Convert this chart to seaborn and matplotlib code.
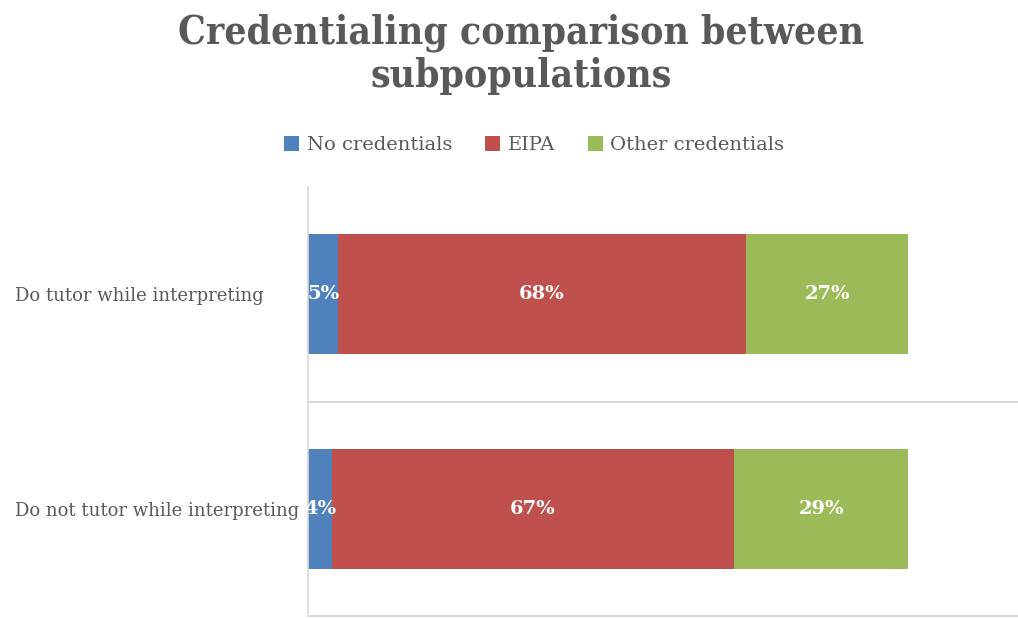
import matplotlib
matplotlib.use("Agg")
import matplotlib.pyplot as plt
from matplotlib.patches import Patch
import seaborn as sns
import pandas as pd
import numpy as np

# Survey groups and credential shares (percent)
groups = ["Do tutor while interpreting", "Do not tutor while interpreting"]
series_names = ["No credentials", "EIPA", "Other credentials"]
no_credentials = [5, 4]
eipa = [68, 67]
other_credentials = [27, 29]

colors = ["#4F81BD", "#C0504D", "#9BBB59"]
text_gray = "#595959"
grid_gray = "#D9D9D9"

sns.set_theme(style="white")
plt.rcParams["font.family"] = ["DejaVu Serif"]

fig = plt.figure(figsize=(10.18, 6.18), dpi=100)
ax = fig.add_axes([308 / 1018, 2 / 618, 1 - 308 / 1018, (616 - 187) / 618])

values = [no_credentials, eipa, other_credentials]
cum = np.cumsum(np.array(values, dtype=float), axis=0)

# Draw cumulative totals from the outermost segment inward so they stack
for i in range(len(series_names) - 1, -1, -1):
    df = pd.DataFrame({"group": groups, "value": cum[i]})
    sns.barplot(data=df, y="group", x="value", orient="h", color=colors[i],
                saturation=1, width=0.56, ax=ax, linewidth=0)

# Segment labels
for i, vals in enumerate(values):
    starts = cum[i] - np.array(vals)
    for j, v in enumerate(vals):
        ax.text(starts[j] + v / 2, j, f"{v}%", ha="center", va="center",
                color="white", fontsize=14, fontweight="bold")

ax.set_xlim(0, 118.3)
ax.set_ylim(1.5, -0.5)
ax.set_xlabel("")
ax.set_ylabel("")
ax.set_xticks([])
for s in ["top", "right", "bottom"]:
    ax.spines[s].set_visible(False)
ax.spines["left"].set_color(grid_gray)
ax.spines["left"].set_linewidth(1.2)
for yb in [0.5, 1.5]:
    ax.axhline(yb, color=grid_gray, linewidth=1.5, clip_on=False)

ax.tick_params(axis="y", length=0, pad=0)
ax.set_yticks(range(len(groups)))
ax.set_yticklabels(groups, fontsize=13, color=text_gray)
for lbl in ax.get_yticklabels():
    lbl.set_horizontalalignment("left")
    lbl.set_x(-293 / 710)

fig.text(0.512, 0.978, "Credentialing comparison between\nsubpopulations",
         ha="center", va="top", fontsize=28, fontweight="bold",
         color=text_gray, linespacing=1.15, fontstretch="condensed")

handles = [Patch(facecolor=c, edgecolor="none") for c in colors]
fig.legend(handles, series_names, loc="center", bbox_to_anchor=(0.525, 1 - 145 / 618),
           ncol=3, frameon=False, fontsize=14, labelcolor=text_gray,
           handlelength=0.75, handleheight=0.85, handletextpad=0.4, columnspacing=1.7)

fig.savefig("out.png", dpi=100, facecolor="white")
